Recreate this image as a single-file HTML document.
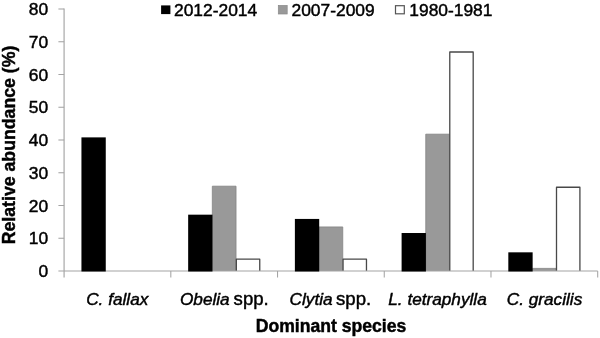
<!DOCTYPE html><html><head><meta charset="utf-8"><title>chart</title><style>html,body{margin:0;padding:0;background:#fff}body{width:600px;height:338px;overflow:hidden}svg{display:block}svg{will-change:transform}text{font-family:"Liberation Sans",Arial,sans-serif;fill:#000;stroke:#000;stroke-width:0.45px}</style></head><body>
<svg width="600" height="338" viewBox="0 0 600 338">
<rect width="600" height="338" fill="#fff"/>
<rect x="212.32" y="186.18" width="23.72" height="84.82" fill="#999"/>
<path d="M212.32 271.0 V186.18 H236.04 V271.0" fill="none" stroke="#858585" stroke-width="0.8"/>
<rect x="236.34" y="259.15" width="23.42" height="11.85" fill="#fff"/>
<path d="M236.34 271.0 V259.15 H259.75 V271.0" fill="none" stroke="#484848" stroke-width="1.3" stroke-linejoin="round"/>
<rect x="319.04" y="226.95" width="23.72" height="44.05" fill="#999"/>
<path d="M319.04 271.0 V226.95 H342.76 V271.0" fill="none" stroke="#858585" stroke-width="0.8"/>
<rect x="343.06" y="259.15" width="23.42" height="11.85" fill="#fff"/>
<path d="M343.06 271.0 V259.15 H366.47 V271.0" fill="none" stroke="#484848" stroke-width="1.3" stroke-linejoin="round"/>
<rect x="425.76" y="134.17" width="23.72" height="136.83" fill="#999"/>
<path d="M425.76 271.0 V134.17 H449.48 V271.0" fill="none" stroke="#858585" stroke-width="0.8"/>
<rect x="449.78" y="52.00" width="23.42" height="219.00" fill="#fff"/>
<path d="M449.78 271.0 V52.00 H473.19 V271.0" fill="none" stroke="#484848" stroke-width="1.3" stroke-linejoin="round"/>
<rect x="532.48" y="268.38" width="23.72" height="2.62" fill="#999"/>
<path d="M532.48 271.0 V268.38 H556.20 V271.0" fill="none" stroke="#858585" stroke-width="0.8"/>
<rect x="556.50" y="187.26" width="23.42" height="83.74" fill="#fff"/>
<path d="M556.50 271.0 V187.26 H579.91 V271.0" fill="none" stroke="#484848" stroke-width="1.3" stroke-linejoin="round"/>
<g stroke="#a4a4a4" stroke-width="1.05" fill="none">
<line x1="64.1" y1="8.5" x2="64.1" y2="277.4" stroke="#b4b4b4" stroke-width="1.4"/>
<line x1="58.4" y1="271.0" x2="597.7" y2="271.0"/>
<line x1="58.4" y1="238.25" x2="64.1" y2="238.25"/>
<line x1="58.4" y1="205.50" x2="64.1" y2="205.50"/>
<line x1="58.4" y1="172.75" x2="64.1" y2="172.75"/>
<line x1="58.4" y1="140.00" x2="64.1" y2="140.00"/>
<line x1="58.4" y1="107.25" x2="64.1" y2="107.25"/>
<line x1="58.4" y1="74.50" x2="64.1" y2="74.50"/>
<line x1="58.4" y1="41.75" x2="64.1" y2="41.75"/>
<line x1="58.4" y1="9.00" x2="64.1" y2="9.00"/>
<line x1="170.82" y1="271.0" x2="170.82" y2="277.4"/>
<line x1="277.54" y1="271.0" x2="277.54" y2="277.4"/>
<line x1="384.26" y1="271.0" x2="384.26" y2="277.4"/>
<line x1="490.98" y1="271.0" x2="490.98" y2="277.4"/>
<line x1="597.70" y1="271.0" x2="597.70" y2="277.4"/>
</g>
<rect x="81.44" y="137.38" width="24.32" height="134.12" fill="#000"/>
<rect x="188.16" y="214.67" width="24.32" height="56.83" fill="#000"/>
<rect x="294.88" y="218.93" width="24.32" height="52.57" fill="#000"/>
<rect x="401.60" y="233.01" width="24.32" height="38.49" fill="#000"/>
<rect x="508.32" y="252.33" width="24.32" height="19.17" fill="#000"/>
<g font-size="17.4" text-anchor="end">
<text x="48.2" y="277.10">0</text>
<text x="48.2" y="244.35">10</text>
<text x="48.2" y="211.60">20</text>
<text x="48.2" y="178.85">30</text>
<text x="48.2" y="146.10">40</text>
<text x="48.2" y="113.35">50</text>
<text x="48.2" y="80.60">60</text>
<text x="48.2" y="47.85">70</text>
<text x="48.2" y="15.10">80</text>
</g>
<rect x="161.1" y="5.4" width="9.3" height="8.7" fill="#000"/>
<rect x="278.3" y="5.4" width="8.9" height="8.6" fill="#999" stroke="#8a8a8a" stroke-width="0.7"/>
<rect x="395.5" y="5.7" width="8.8" height="8.1" fill="#fff" stroke="#555" stroke-width="1.2"/>
<g font-size="17.4">
<text x="174.0" y="16.1">2012-2014</text>
<text x="291.5" y="16.1">2007-2009</text>
<text x="409.3" y="16.1">1980-1981</text>
</g>
<g font-size="17.2" font-style="italic">
<text x="117.25" y="304.6" text-anchor="middle">C. fallax</text>
<text x="437.5" y="304.6" text-anchor="middle">L. tetraphylla</text>
<text x="544.55" y="304.6" text-anchor="middle">C. gracilis</text>
<text x="180" y="304.6">Obelia</text>
<text x="289.6" y="304.6">Clytia</text>
</g>
<g font-size="18.6">
<text x="233.6" y="304.6">spp.</text>
<text x="336.0" y="304.6">spp.</text>
</g>
<text x="331" y="332.3" font-size="17.6" font-weight="bold" text-anchor="middle">Dominant species</text>
<text transform="translate(14.6,145.0) rotate(-90)" font-size="17.7" font-weight="bold" text-anchor="middle">Relative abundance (%)</text>
</svg></body></html>
